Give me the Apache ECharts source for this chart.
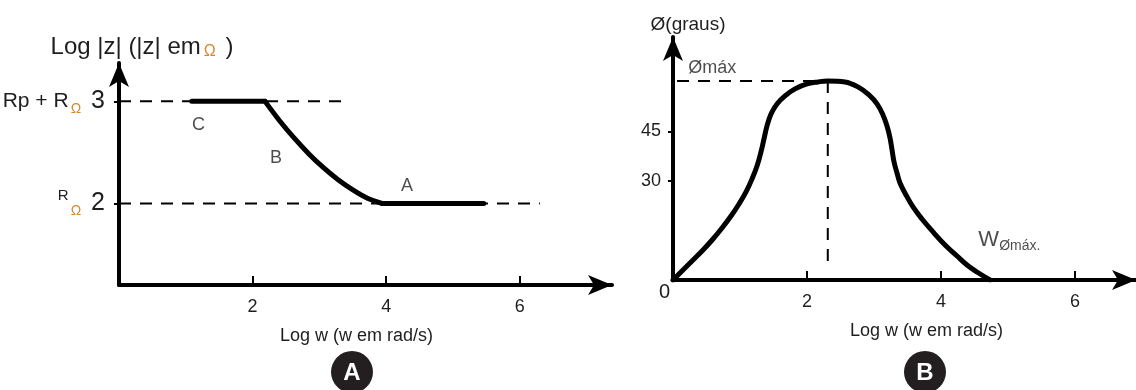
<!DOCTYPE html>
<html>
<head>
<meta charset="utf-8">
<script src="https://cdn.jsdelivr.net/npm/echarts@6/dist/echarts.min.js"></script>
<style>
html, body { margin: 0; padding: 0; background: #fff; }
#main { width: 1136px; height: 390px; }
</style>
</head>
<body>
<div id="main"></div>
<script>
var FONT = '"Liberation Sans", Arial, sans-serif';
var TXT = '#1e1e1e';
var OMEGA = '#d4882e';

// ---- grafico A: log |z| x log w ----
var xTicksA = [2, 4, 6];
var yTicksA = [2, 3];
var trechoC = [[1.09, 3], [2.186, 3]];
var trechoB = [[2.186, 3.0], [2.404, 2.810], [2.624, 2.639], [2.843, 2.485], [3.061, 2.350], [3.280, 2.232],
  [3.500, 2.133], [3.719, 2.051], [3.937, 2.0]];
var trechoA = [[3.937, 2], [5.46, 2]];
var tracejadoRp = [[0, 3], [3.43, 3]];
var tracejadoR = [[0, 2], [6.3, 2]];
var rotulosA = [['C', 1.19, 2.77], ['B', 2.35, 2.44], ['A', 4.31, 2.17]];

// ---- grafico B: fase x log w ----
var xTicksB = [2, 4, 6];
var yTicksB = [30, 45];
var yLabelsB = [0, 30, 45];
var fase = [
  [0, 0], [0.149, 3.03], [0.299, 6.06], [0.448, 9.09], [0.597, 12.42], [0.731, 15.76], [0.866, 19.39],
  [0.985, 23.03], [1.090, 26.67], [1.179, 30.61], [1.254, 34.55], [1.313, 38.79], [1.358, 42.73],
  [1.403, 46.67], [1.463, 50.30], [1.552, 53.33], [1.672, 55.76], [1.821, 57.88], [2.0, 59.39],
  [2.164, 60.0], [2.31, 60.3], [2.567, 60.0], [2.761, 58.48], [2.925, 56.06], [3.045, 53.33],
  [3.134, 50.0], [3.194, 46.67], [3.239, 43.03], [3.269, 39.39], [3.299, 35.76], [3.343, 32.42],
  [3.388, 29.39], [3.478, 25.76], [3.582, 22.12], [3.716, 18.48], [3.881, 14.55], [4.060, 10.61],
  [4.239, 7.27], [4.388, 4.55], [4.537, 2.42], [4.731, 0]
];
var faseMax = [2.31, 60.3];
var tracejadoMaxH = [[0.06, 60.3], faseMax];
var tracejadoMaxV = [faseMax, [2.31, 3]];
var rotulosB = [['{a|Ømáx}', 0.22, 64.2], ['{w|W}{s|Ømáx.}', 4.55, 12.1]];

var chart = echarts.init(document.getElementById('main'), null, { renderer: 'canvas' });

function eixoX(grid, max, ticks, pad) {
  return {
    gridIndex: grid, type: 'value', min: 0, max: max,
    name: 'Log w (w em rad/s)', nameLocation: 'middle', nameGap: 42,
    nameTextStyle: { fontFamily: FONT, fontSize: 18, color: TXT, padding: pad },
    axisLine: { lineStyle: { color: '#000', width: 4 }, symbol: ['none', 'arrow'], symbolSize: [15, 24] },
    axisTick: { customValues: ticks, inside: true, length: 9, lineStyle: { color: '#000', width: 2 } },
    axisLabel: { customValues: ticks, margin: 13, fontFamily: FONT, fontSize: 18, color: TXT },
    splitLine: { show: false }
  };
}

function tracejado(data, xi) {
  return {
    type: 'line', xAxisIndex: xi, yAxisIndex: xi, data: data, showSymbol: false, silent: true, z: 1,
    lineStyle: { color: '#000', width: 2, type: [12, 9] }
  };
}

function curva(data, xi, smooth) {
  return {
    type: 'line', xAxisIndex: xi, yAxisIndex: xi, data: data, showSymbol: false, silent: true, z: 3,
    smooth: smooth, lineStyle: { color: '#000', width: 5, cap: 'round', join: 'round' }
  };
}

var option = {
  animation: false,
  backgroundColor: '#fff',
  grid: [
    { left: 119, top: 63, width: 493, height: 222, outerBoundsMode: 'none' },
    { left: 673, top: 37, width: 463, height: 243, outerBoundsMode: 'none' }
  ],
  xAxis: [eixoX(0, 7.38, xTicksA, [0, 18, 0, 0]), eixoX(1, 6.91, xTicksB, [0, 0, 0, 44])],
  yAxis: [
    {
      gridIndex: 0, type: 'value', min: 1.2, max: 3.376,
      name: '{n|Log |z| (|z| em}{o|Ω}{n| )}', nameLocation: 'end', nameGap: 3,
      nameTextStyle: {
        align: 'center', padding: [0, 0, 0, 46],
        rich: {
          n: { fontFamily: FONT, fontSize: 24, color: TXT, lineHeight: 26 },
          o: { fontFamily: FONT, fontSize: 16, color: OMEGA, padding: [0, 3, 0, 3], verticalAlign: 'bottom', lineHeight: 18 }
        }
      },
      axisLine: { lineStyle: { color: '#000', width: 4 }, symbol: ['none', 'arrow'], symbolSize: [15, 24] },
      axisTick: { customValues: yTicksA, length: 5, lineStyle: { color: '#000', width: 2 } },
      axisLabel: {
        customValues: yTicksA, margin: 14,
        formatter: function (v) {
          return v === 3 ? '{t|Rp + R}{o|Ω}{n|3}' : '{s|R}{o|Ω}{n|2}';
        },
        rich: {
          t: { fontFamily: FONT, fontSize: 21, color: TXT, lineHeight: 30 },
          s: { fontFamily: FONT, fontSize: 15, color: TXT, verticalAlign: 'top', lineHeight: 15 },
          o: { fontFamily: FONT, fontSize: 14, color: OMEGA, verticalAlign: 'bottom', lineHeight: 16, padding: [0, 0, 0, 2] },
          n: { fontFamily: FONT, fontSize: 25, color: TXT, padding: [0, 0, 0, 10], lineHeight: 30 }
        }
      },
      splitLine: { show: false }
    },
    {
      gridIndex: 1, type: 'value', min: 0, max: 73.6,
      name: 'Ø(graus)', nameLocation: 'end', nameGap: 3,
      nameTextStyle: { align: 'center', padding: [0, 0, 0, 30], fontFamily: FONT, fontSize: 19, color: TXT },
      axisLine: { lineStyle: { color: '#000', width: 4 }, symbol: ['none', 'arrow'], symbolSize: [15, 24] },
      axisTick: { customValues: yTicksB, length: 5, lineStyle: { color: '#000', width: 2 } },
      axisLabel: {
        customValues: yLabelsB, margin: 3,
        formatter: function (v) { return v === 0 ? '{z|0}' : '{t|' + v + '}'; },
        rich: {
          t: { fontFamily: FONT, fontSize: 18, color: TXT, padding: [0, 9, 0, 0] },
          z: { fontFamily: FONT, fontSize: 20, color: TXT, padding: [24, 0, 0, 0] }
        }
      },
      splitLine: { show: false }
    }
  ],
  series: [
    tracejado(tracejadoRp, 0),
    tracejado(tracejadoR, 0),
    curva(trechoC, 0, false),
    curva(trechoB, 0, 0.3),
    curva(trechoA, 0, false),
    {
      type: 'scatter', xAxisIndex: 0, yAxisIndex: 0, silent: true, symbolSize: 1,
      itemStyle: { color: 'rgba(0,0,0,0)' },
      data: rotulosA.map(function (r) { return { value: [r[1], r[2]], name: r[0] }; }),
      label: { show: true, position: 'inside', formatter: '{b}', fontFamily: FONT, fontSize: 18, color: TXT }
    },
    tracejado(tracejadoMaxH, 1),
    tracejado(tracejadoMaxV, 1),
    curva(fase, 1, 0.4),
    {
      type: 'scatter', xAxisIndex: 1, yAxisIndex: 1, silent: true, symbolSize: 1,
      itemStyle: { color: 'rgba(0,0,0,0)' },
      data: rotulosB.map(function (r) { return { value: [r[1], r[2]], name: r[0] }; }),
      label: {
        show: true, position: 'right', distance: 0, formatter: '{b}',
        rich: {
          a: { fontFamily: FONT, fontSize: 18, color: TXT },
          w: { fontFamily: FONT, fontSize: 22, color: TXT },
          s: { fontFamily: FONT, fontSize: 14, color: TXT, verticalAlign: 'bottom', padding: [12, 0, 0, 0] }
        }
      }
    }
  ],
  graphic: [
    { type: 'circle', shape: { cx: 352, cy: 372, r: 21 }, style: { fill: '#231f20' } },
    { type: 'text', x: 352, y: 373, style: { text: 'A', fill: '#fff', font: 'bold 24px "Liberation Sans"', align: 'center', verticalAlign: 'middle' } },
    { type: 'circle', shape: { cx: 925, cy: 372, r: 21 }, style: { fill: '#231f20' } },
    { type: 'text', x: 925, y: 373, style: { text: 'B', fill: '#fff', font: 'bold 24px "Liberation Sans"', align: 'center', verticalAlign: 'middle' } }
  ]
};

chart.setOption(option);
</script>
</body>
</html>
